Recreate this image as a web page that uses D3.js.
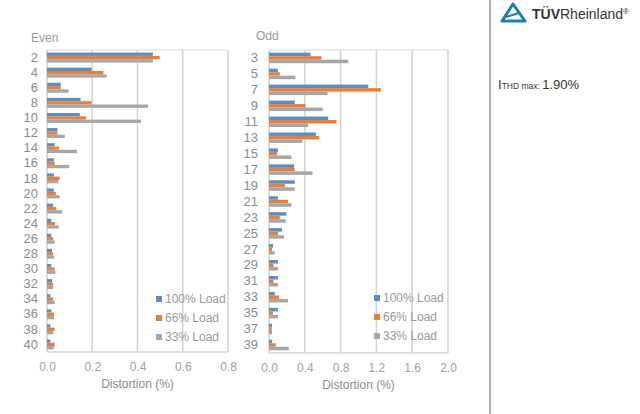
<!DOCTYPE html>
<html><head><meta charset="utf-8">
<script src="https://cdn.jsdelivr.net/npm/d3@7"></script>
<style>body{margin:0;background:#fff;} svg{display:block;font-family:"Liberation Sans",Arial,sans-serif;}</style>
</head><body>
<svg id="c" width="640" height="414"></svg>
<script>
const seriesNames = ["100% Load", "66% Load", "33% Load"];
const colors = ["#5b8fc4", "#e9803a", "#a6a6a6"];

const evenOrders = ["2","4","6","8","10","12","14","16","18","20","22","24","26","28","30","32","34","36","38","40"];
const even100 = [0.468,0.197,0.061,0.148,0.145,0.046,0.034,0.031,0.031,0.030,0.027,0.019,0.019,0.022,0.019,0.022,0.015,0.019,0.015,0.015];
const even66  = [0.498,0.249,0.061,0.197,0.172,0.046,0.053,0.034,0.056,0.039,0.041,0.035,0.027,0.027,0.034,0.027,0.027,0.031,0.034,0.034];
const even33  = [0.468,0.264,0.096,0.447,0.415,0.079,0.133,0.098,0.049,0.056,0.067,0.052,0.034,0.031,0.037,0.027,0.034,0.031,0.027,0.031];
const evenTicks = [0.0,0.2,0.4,0.6,0.8];

const oddOrders = ["3","5","7","9","11","13","15","17","19","21","23","25","27","29","31","33","35","37","39"];
const odd100 = [0.464,0.10,1.11,0.288,0.662,0.523,0.10,0.28,0.288,0.10,0.194,0.146,0.045,0.10,0.10,0.064,0.10,0.034,0.034];
const odd66  = [0.587,0.12,1.252,0.407,0.755,0.561,0.09,0.288,0.176,0.213,0.12,0.10,0.034,0.05,0.05,0.112,0.045,0.03,0.075];
const odd33  = [0.886,0.295,0.654,0.598,0.437,0.37,0.25,0.486,0.288,0.25,0.187,0.168,0.064,0.10,0.10,0.213,0.10,0.034,0.22];
const oddTicks = [0.0,0.4,0.8,1.2,1.6,2.0];

const svg = d3.select("#c");

function panel(cfg){
  const g = svg.append("g");
  const x = d3.scaleLinear().domain([0, cfg.max]).range([cfg.x0, cfg.x1]);
  const y = d3.scaleBand().domain(cfg.cats).range([cfg.y0, cfg.y1]).paddingInner(0.34).paddingOuter(0.17);
  const ys = d3.scaleBand().domain(seriesNames).range([0, y.bandwidth()]);
  g.selectAll("line.grid").data(cfg.ticks).join("line")
    .attr("x1", d=>x(d)).attr("x2", d=>x(d)).attr("y1", cfg.y0).attr("y2", cfg.y1)
    .attr("stroke", "#d4d4d4").attr("stroke-width", 1.6);
  g.append("line").attr("x1", cfg.x0).attr("x2", cfg.x1).attr("y1", cfg.y0).attr("y2", cfg.y0).attr("stroke","#dcdcdc").attr("stroke-width",1.2);
  g.append("line").attr("x1", cfg.x0).attr("x2", cfg.x1).attr("y1", cfg.y1).attr("y2", cfg.y1).attr("stroke","#d4d4d4").attr("stroke-width",1.6);
  cfg.series.forEach((vals, si) => {
    g.selectAll("rect.s"+si).data(vals).join("rect")
      .attr("x", x(0)).attr("y", (d,i)=>y(cfg.cats[i]) + ys(seriesNames[si]))
      .attr("width", d=>x(d)-x(0)).attr("height", ys.bandwidth())
      .attr("fill", colors[si]);
  });
  const ya = d3.axisLeft(y).tickSize(0).tickPadding(0);
  const yg = g.append("g").attr("transform", `translate(${cfg.labelX},0)`).call(ya);
  yg.select(".domain").remove();
  yg.selectAll("text").attr("fill", "#8c8c8c").attr("font-size", 13).attr("font-family","Liberation Sans, Arial, sans-serif");
  const xa = d3.axisBottom(x).tickValues(cfg.ticks).tickFormat(d3.format(".1f")).tickSize(0).tickPadding(0);
  const xg = g.append("g").attr("transform", `translate(0,${cfg.y1+10})`).call(xa);
  xg.select(".domain").remove();
  xg.selectAll("text").attr("fill", "#a0a0a0").attr("font-size", 12).attr("font-family","Liberation Sans, Arial, sans-serif");
  g.append("text").attr("x", (cfg.x0+cfg.x1)/2).attr("y", cfg.y1+36).attr("text-anchor","middle")
    .attr("fill","#8c8c8c").attr("font-size",12).text("Distortion (%)");
  g.append("text").attr("x", cfg.titleX).attr("y", cfg.titleY).attr("fill","#999").attr("font-size",12).text(cfg.title);
  const lg = g.append("g");
  seriesNames.forEach((n, i) => {
    const ly = cfg.legY + i*19;
    lg.append("rect").attr("x", cfg.legX).attr("y", ly-3).attr("width",6).attr("height",6).attr("fill", colors[i]);
    lg.append("text").attr("x", cfg.legX+9).attr("y", ly).attr("dy","0.35em").attr("fill","#999").attr("font-size",12).text(n);
  });
}

panel({cats: evenOrders, series:[even100, even66, even33], max:0.8, ticks: evenTicks,
  x0:47, x1:228, y0:50, y1:352, labelX:38, title:"Even", titleX:31, titleY:42, legX:156, legY:299});
panel({cats: oddOrders, series:[odd100, odd66, odd33], max:2.0, ticks: oddTicks,
  x0:269, x1:448, y0:50, y1:353, labelX:258, title:"Odd", titleX:256, titleY:40, legX:374, legY:298});

svg.append("line").attr("x1",490).attr("x2",490).attr("y1",0).attr("y2",414).attr("stroke","#9a9a9a").attr("stroke-width",1.6);

const logo = svg.append("g");
logo.append("path").attr("d","M513,4 L502,21 L525,21 Z").attr("fill","none").attr("stroke","#1f7fa8").attr("stroke-width",3).attr("stroke-linejoin","round");
logo.append("path").attr("d","M506,17 L519,13").attr("stroke","#1f7fa8").attr("stroke-width",2);
const lt = logo.append("text").attr("x",532).attr("y",19).attr("font-size",14).attr("fill","#333");
lt.append("tspan").attr("font-weight","bold").text("TÜV");
lt.append("tspan").text("Rheinland");
lt.append("tspan").attr("font-size",8).attr("dy",-5).text("®");

const it = svg.append("text").attr("x",498).attr("y",89).attr("fill","#333").attr("font-size",13);
it.append("tspan").text("I");
it.append("tspan").attr("font-size",8.5).text("THD max: ");
it.append("tspan").attr("font-size",13).text("1.90%");
</script>
</body></html>
